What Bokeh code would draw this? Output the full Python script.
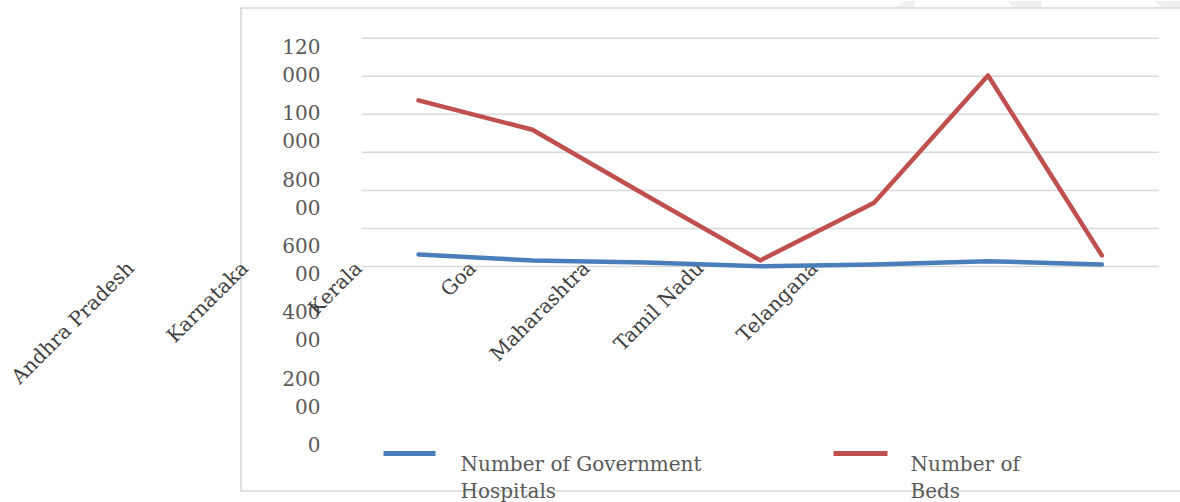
from bokeh.plotting import figure
from bokeh.models import Range1d
from bokeh.core.properties import value
from bokeh.embed import file_html
from bokeh.resources import INLINE

# ---- data -------------------------------------------------------------
states = ["Andhra Pradesh", "Karnataka", "Kerala", "Goa",
          "Maharashtra", "Tamil Nadu", "Telangana"]
hospitals = [6300, 3200, 2100, 150, 1050, 2800, 1050]
beds = [87300, 71900, 37300, 3200, 33500, 100400, 5800]

y_ticks = [0, 20000, 40000, 60000, 80000, 100000, 120000]
y_tick_text = ["0", "200\n00", "400\n00", "600\n00", "800\n00", "100\n000", "120\n000"]
series_names = ["Number of Government\nHospitals", "Number of\nBeds"]
series_colors = ["#4a7ebb", "#c0504d"]

# ---- canvas geometry --------------------------------------------------
W, H = 1180, 502
X0_PX, DX_PX = 418.0, 113.9      # first category centre, category spacing
Y0_PX, DY_PX = 266.0, 38.05      # zero line, pixels per 20 000
x_start = -X0_PX / DX_PX
x_end = (W - X0_PX) / DX_PX
y_top = Y0_PX / DY_PX * 20000
y_bot = -(H - Y0_PX) / DY_PX * 20000


def px(xp):
    return x_start + xp / W * (x_end - x_start)


def py(yp):
    return y_top - yp / H * (y_top - y_bot)


FONT = value("DejaVu Serif")
TXT = "#595959"

p = figure(width=W, height=H, output_backend="svg", toolbar_location=None,
           x_range=Range1d(x_start, x_end), y_range=Range1d(y_bot, y_top),
           x_axis_location=None, y_axis_location=None,
           min_border=0, min_border_left=0, min_border_right=0,
           min_border_top=0, min_border_bottom=0)
p.outline_line_color = None
p.xgrid.visible = False
p.ygrid.visible = False
p.background_fill_color = "white"
p.border_fill_color = "white"

# faint marks above the chart frame
for poly in ([(893, 7.5), (905, 0), (916, 0), (913, 7.5)],
             [(1007, 0), (1042, 0), (1040, 7.5), (1012, 7.5)],
             [(1153, 0), (1180, 0), (1180, 7.5), (1163, 7.5)]):
    p.patch([px(a) for a, b in poly], [py(b) for a, b in poly],
            fill_color="#f0f0f0", line_color=None)

# chart frame
p.quad(left=[px(240.5)], right=[px(1195)], top=[py(7.5)], bottom=[py(490.5)],
       fill_color=None, line_color="#d9d9d9", line_width=1.6)

# horizontal gridlines
n = len(states)
p.segment(x0=[-0.5] * len(y_ticks), x1=[n - 0.5] * len(y_ticks),
          y0=y_ticks, y1=y_ticks, line_color="#d9d9d9", line_width=1.5)

# y tick labels (wrapped)
ys, xs, ts = [], [], []
for k, lab in enumerate(y_tick_text):
    top_line = 45.7 + (len(y_tick_text) - 1 - k) * 66.4
    for j, part in enumerate(lab.split("\n")):
        xs.append(px(320))
        ys.append(py(top_line + j * 28))
        ts.append(part)
p.text(x=xs, y=ys, text=ts, text_font=FONT, text_font_size="20px",
       text_color=TXT, text_align="right", text_baseline="middle")

# category labels, rotated
idx = list(range(n))
p.text(x=[i - 288 / DX_PX for i in idx], y=[py(264)] * n, text=states,
       angle=0.785398, text_font=FONT, text_font_size="20px",
       text_color="#404040", text_align="right", text_baseline="middle")

# series
p.line(idx, hospitals, line_color=series_colors[0], line_width=4.5,
       line_join="round", line_cap="round")
p.line(idx, beds, line_color=series_colors[1], line_width=4.5,
       line_join="round", line_cap="round")

# legend
leg_x = [(383, 435, 460), (833, 887, 910)]
for (a, b, tx), name, col in zip(leg_x, series_names, series_colors):
    p.segment(x0=[px(a)], x1=[px(b)], y0=[py(453)], y1=[py(453)],
              line_color=col, line_width=5)
    parts = name.split("\n")
    p.text(x=[px(tx)] * len(parts), y=[py(463 + 27 * j) for j in range(len(parts))],
           text=parts, text_font=FONT, text_font_size="20px", text_color=TXT,
           text_align="left", text_baseline="middle")

open("out.html", "w").write(file_html(p, INLINE))
